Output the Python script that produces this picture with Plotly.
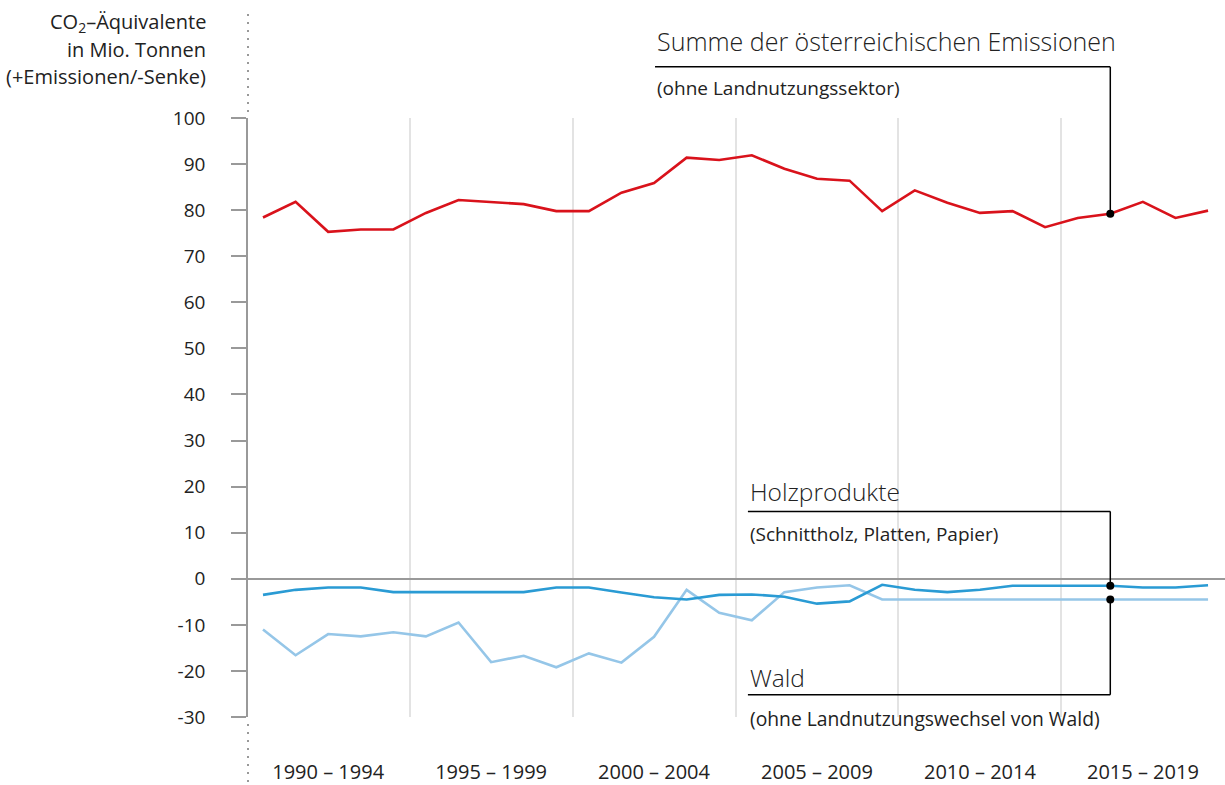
import plotly.graph_objects as go

years = list(range(1990, 2020))
emissions = [78.4, 81.8, 75.3, 75.8, 75.8, 79.4, 82.2, 81.8, 81.3, 79.8,
             79.8, 83.8, 85.9, 91.4, 90.9, 91.9, 89.0, 86.8, 86.4, 79.8,
             84.3, 81.6, 79.4, 79.8, 76.3, 78.3, 79.2, 81.8, 78.3, 79.9]
holzprodukte = [-3.5, -2.4, -1.9, -1.9, -2.9, -2.9, -2.9, -2.9, -2.9, -1.9,
                -1.9, -3.0, -4.0, -4.5, -3.5, -3.4, -3.9, -5.4, -4.9, -1.3,
                -2.4, -2.9, -2.4, -1.5, -1.5, -1.5, -1.5, -1.9, -1.9, -1.4]
wald = [-11.0, -16.6, -12.0, -12.5, -11.6, -12.5, -9.5, -18.1, -16.7, -19.2,
        -16.2, -18.2, -12.6, -2.4, -7.4, -9.0, -2.9, -1.9, -1.4, -4.5,
        -4.5, -4.5, -4.5, -4.5, -4.5, -4.5, -4.5, -4.5, -4.5, -4.5]
period_centers = [1992, 1997, 2002, 2007, 2012, 2017]
period_labels = ["1990 – 1994", "1995 – 1999", "2000 – 2004",
                 "2005 – 2009", "2010 – 2014", "2015 – 2019"]
period_dividers = [1994.5, 1999.5, 2004.5, 2009.5, 2014.5]
y_ticks = [-30, -20, -10, 0, 10, 20, 30, 40, 50, 60, 70, 80, 90, 100]
y_tick_labels = ["-30", "-20", "-10", "0", "10", "20", "30", "40", "50",
                 "60", "70", "80", "90", "100"]
y_range = [-30, 100]
x_range = [1989.54, 2019.52]
marker_year = 2016

RED = "#d9121b"
BLUE = "#2a9bd4"
LIGHT = "#95c6e8"
GREY = "#999999"
TXT = "#222222"
FONT = "Open Sans"

W, H = 1225, 785
ML, MR, MT, MB = 248, 0, 118, 66
plot_h = H - MT - MB


def py(pix):
    """pixel y -> paper y"""
    return (H - MB - pix) / plot_h


def vy(v):
    """data y -> paper y"""
    return (v - y_range[0]) / (y_range[1] - y_range[0])


idx = years.index(marker_year)

fig = go.Figure()
fig.add_trace(go.Scatter(x=years, y=wald, mode="lines",
                         line=dict(color=LIGHT, width=2.6), hoverinfo="skip"))
fig.add_trace(go.Scatter(x=years, y=holzprodukte, mode="lines",
                         line=dict(color=BLUE, width=2.6), hoverinfo="skip"))
fig.add_trace(go.Scatter(x=years, y=emissions, mode="lines",
                         line=dict(color=RED, width=2.6), hoverinfo="skip"))
fig.add_trace(go.Scatter(
    x=[marker_year] * 3,
    y=[emissions[idx], holzprodukte[idx], wald[idx]],
    mode="markers", marker=dict(color="black", size=8),
    cliponaxis=False, hoverinfo="skip"))

shapes = []
x_sum = 2002.03
x_sub = 2004.88
line_style = dict(color="black", width=1.5)
y_sum_line = py(66.7)
shapes.append(dict(type="line", xref="x", yref="paper", x0=x_sum, x1=marker_year,
                   y0=y_sum_line, y1=y_sum_line, line=line_style))
shapes.append(dict(type="line", xref="x", yref="paper", x0=marker_year, x1=marker_year,
                   y0=y_sum_line, y1=vy(emissions[idx]), line=line_style))
y_holz_line = py(512.7)
shapes.append(dict(type="line", xref="x", yref="paper", x0=x_sub, x1=marker_year,
                   y0=y_holz_line, y1=y_holz_line, line=line_style))
shapes.append(dict(type="line", xref="x", yref="paper", x0=marker_year, x1=marker_year,
                   y0=y_holz_line, y1=vy(holzprodukte[idx]), line=line_style))
y_wald_line = py(696.7)
shapes.append(dict(type="line", xref="x", yref="paper", x0=x_sub, x1=marker_year,
                   y0=y_wald_line, y1=y_wald_line, line=line_style))
shapes.append(dict(type="line", xref="x", yref="paper", x0=marker_year, x1=marker_year,
                   y0=y_wald_line, y1=vy(wald[idx]), line=line_style))
# dotted axis extensions
shapes.append(dict(type="line", xref="paper", yref="paper", x0=0, x1=0,
                   y0=py(112), y1=py(8), line=dict(color=GREY, width=2, dash="2px,6px")))
shapes.append(dict(type="line", xref="paper", yref="paper", x0=0, x1=0,
                   y0=py(726), y1=py(786), line=dict(color=GREY, width=2, dash="2px,6px")))

annotations = []
def ann(text, x, y, size, xref="x", xanchor="left", weight=None):
    f = dict(family=FONT, size=size, color=TXT)
    if weight:
        f["weight"] = weight
    annotations.append(dict(text=text, x=x, y=y, xref=xref, yref="paper",
                            xanchor=xanchor, yanchor="middle", showarrow=False,
                            font=f))

ann("Summe der österreichischen Emissionen", x_sum, py(41), 25, weight=300)
ann("(ohne Landnutzungssektor)", x_sum, py(88), 19)
ann("Holzprodukte", x_sub, py(493), 24.5, weight=300)
ann("(Schnittholz, Platten, Papier)", x_sub, py(535), 19)
ann("Wald", x_sub, py(679), 24.5, weight=300)
ann("(ohne Landnutzungswechsel von Wald)", x_sub, py(721), 19.3)

# y axis title lines
title_x = -40 / (W - ML - MR)
ann("CO<sub>2</sub>–Äquivalente", title_x, py(22), 20, xref="paper", xanchor="right")
ann("in Mio. Tonnen", title_x, py(49), 20, xref="paper", xanchor="right")
ann("(+Emissionen/-Senke)", title_x, py(76), 20, xref="paper", xanchor="right")

fig.update_layout(
    width=W, height=H,
    margin=dict(l=ML, r=MR, t=MT, b=MB, pad=0),
    plot_bgcolor="white", paper_bgcolor="white",
    showlegend=False,
    shapes=shapes, annotations=annotations,
    font=dict(family=FONT, color=TXT),
    xaxis=dict(
        range=x_range, showline=False, zeroline=False, showgrid=False,
        tickmode="array", tickvals=period_centers, ticktext=period_labels,
        ticks="", tickfont=dict(family=FONT, size=20, color=TXT),
        ticklabelstandoff=41,
        minor=dict(tickmode="array", tickvals=period_dividers, showgrid=True,
                   gridcolor="#e3e3e3", gridwidth=1.5, ticks=""),
    ),
    yaxis=dict(
        range=y_range, showline=True, linecolor=GREY, linewidth=1.5,
        tickmode="array", tickvals=y_ticks, ticktext=y_tick_labels,
        ticks="outside", ticklen=15,
        tickcolor=GREY, tickwidth=1.5, showgrid=False,
        zeroline=True, zerolinecolor=GREY, zerolinewidth=1.5,
        tickfont=dict(family=FONT, size=19, color=TXT),
        ticklabelstandoff=22,
    ),
)

fig.write_html("out.html",
               config={"displayModeBar": False},
               post_script="document.body.style.margin='0px';document.body.style.overflow='hidden';")
